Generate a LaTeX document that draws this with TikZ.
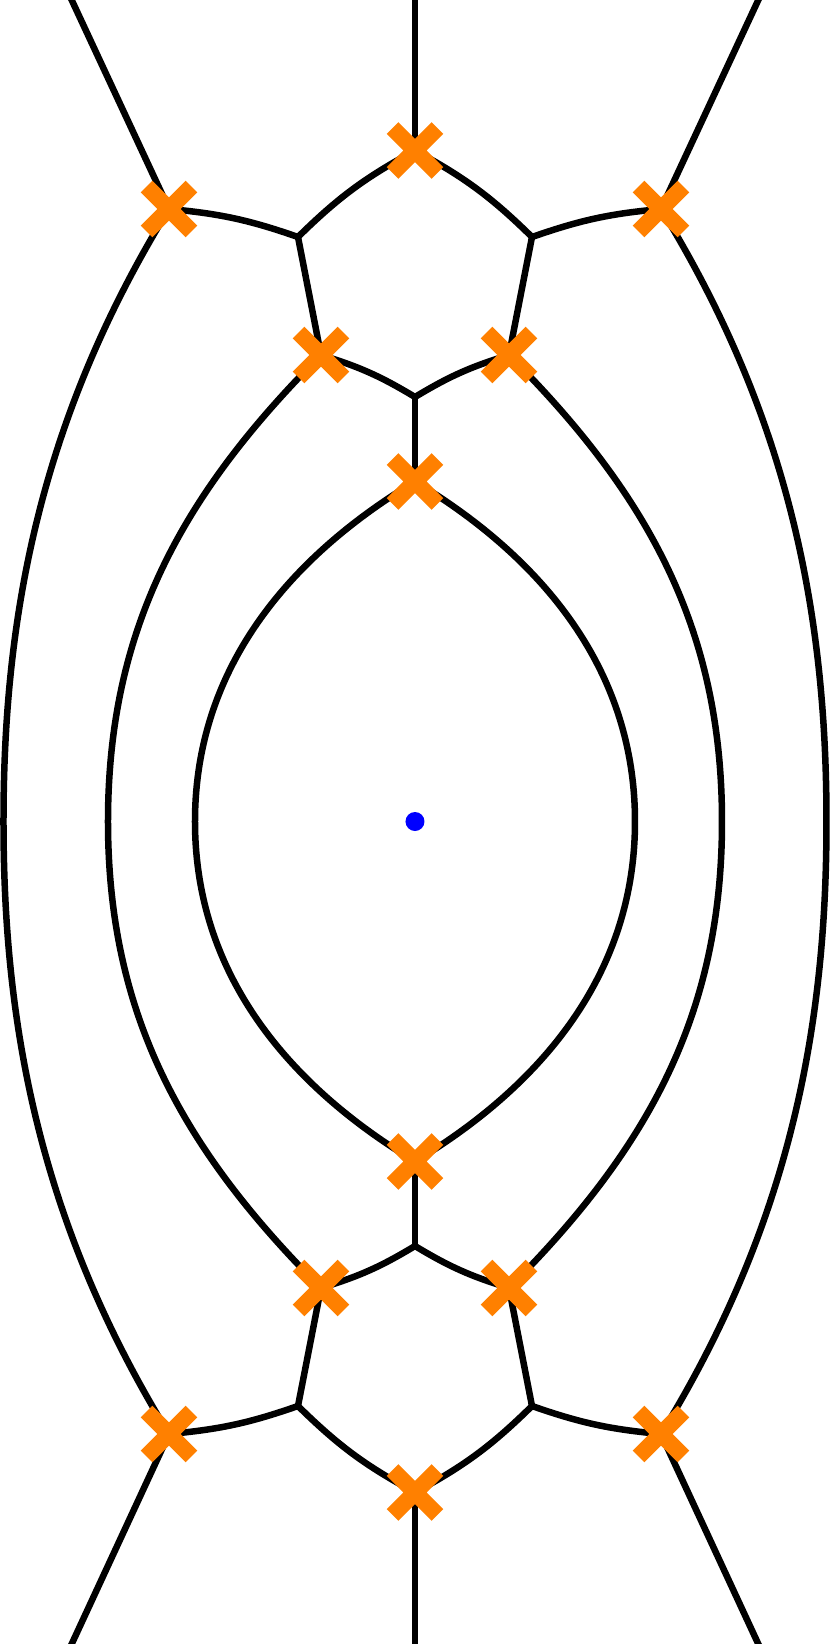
\documentclass[tikz,border=0pt]{standalone}
\usepackage{xcolor}
\usepackage{tikz}
\usetikzlibrary{positioning,shapes.misc}
\definecolor{xorange}{RGB}{255,128,0}

\begin{document}
\begin{tikzpicture}[
	wall/.style={line width=0.065cm, line cap=round, line join=round},
	xmark/.style={cross out, draw=xorange, line width=0.165cm, minimum size=0.284cm, inner sep=0pt},
	]
	\useasboundingbox (-4.15,-8.225) rectangle (4.15,8.215);
	% upper half
	\coordinate (et) at (0, 8.23);
	\coordinate (el) at (-3.44, 8.23);
	\coordinate (er) at (3.44, 8.23);
	\coordinate (t) at (0, 6.71);
	\coordinate (ol) at (-2.46, 6.125);
	\coordinate (or) at (2.46, 6.125);
	\coordinate (jl) at (-1.17, 5.845);
	\coordinate (jr) at (1.17, 5.845);
	\coordinate (ul) at (-0.94, 4.665);
	\coordinate (ur) at (0.94, 4.665);
	\coordinate (h) at (0, 4.245);
	\coordinate (i) at (0, 3.40);
	% lower half
	\coordinate (et2) at (0, -8.24);
	\coordinate (el2) at (-3.44, -8.24);
	\coordinate (er2) at (3.44, -8.24);
	\coordinate (t2) at (0, -6.71);
	\coordinate (ol2) at (-2.46, -6.125);
	\coordinate (or2) at (2.46, -6.125);
	\coordinate (jl2) at (-1.17, -5.845);
	\coordinate (jr2) at (1.17, -5.845);
	\coordinate (ul2) at (-0.94, -4.665);
	\coordinate (ur2) at (0.94, -4.665);
	\coordinate (h2) at (0, -4.245);
	\coordinate (i2) at (0, -3.40);
	% widest points of the loops
	\coordinate (il) at (-2.20, 0);
	\coordinate (ir) at (2.20, 0);
	\coordinate (ml) at (-3.07, 0);
	\coordinate (mr) at (3.07, 0);
	\coordinate (al) at (-4.115, 0);
	\coordinate (ar) at (4.115, 0);

	\draw[wall] (et) -- (t);
	\draw[wall] (el) -- (ol);
	\draw[wall] (er) -- (or);
	\draw[wall] (t) to[bend right=8] (jl);
	\draw[wall] (t) to[bend left=8] (jr);
	\draw[wall] (ol) to[bend left=7] (jl);
	\draw[wall] (or) to[bend right=7] (jr);
	\draw[wall] (jl) -- (ul);
	\draw[wall] (jr) -- (ur);
	\draw[wall] (ul) to[bend left=7] (h);
	\draw[wall] (ur) to[bend right=7] (h);
	\draw[wall] (h) -- (i);

	\draw[wall] (et2) -- (t2);
	\draw[wall] (el2) -- (ol2);
	\draw[wall] (er2) -- (or2);
	\draw[wall] (t2) to[bend left=8] (jl2);
	\draw[wall] (t2) to[bend right=8] (jr2);
	\draw[wall] (ol2) to[bend right=7] (jl2);
	\draw[wall] (or2) to[bend left=7] (jr2);
	\draw[wall] (jl2) -- (ul2);
	\draw[wall] (jr2) -- (ur2);
	\draw[wall] (ul2) to[bend right=7] (h2);
	\draw[wall] (ur2) to[bend left=7] (h2);
	\draw[wall] (h2) -- (i2);

	% loops
	\draw[wall] (i) .. controls (-1.29,2.625) and (-2.20,1.505) .. (il) .. controls (-2.20,-1.505) and (-1.29,-2.625) .. (i2);
	\draw[wall] (i) .. controls (1.29,2.625) and (2.20,1.505) .. (ir) .. controls (2.20,-1.505) and (1.29,-2.625) .. (i2);
	\draw[wall] (ul) .. controls (-2.35,3.255) and (-3.07,1.905) .. (ml) .. controls (-3.07,-1.905) and (-2.35,-3.255) .. (ul2);
	\draw[wall] (ur) .. controls (2.35,3.255) and (3.07,1.905) .. (mr) .. controls (3.07,-1.905) and (2.35,-3.255) .. (ur2);
	\draw[wall] (ol) .. controls (-3.77,3.995) and (-4.115,2.005) .. (al) .. controls (-4.115,-2.005) and (-3.77,-3.995) .. (ol2);
	\draw[wall] (or) .. controls (3.77,3.995) and (4.115,2.005) .. (ar) .. controls (4.115,-2.005) and (3.77,-3.995) .. (or2);

	\node[circle, fill=blue, inner sep=0pt, minimum size=0.19cm] (o) at (0,0) {};
	\foreach \c in {t,ol,or,ul,ur,i,t2,ol2,or2,ul2,ur2,i2}
		\node[xmark] (x\c) at (\c) {};
\end{tikzpicture}
\end{document}
